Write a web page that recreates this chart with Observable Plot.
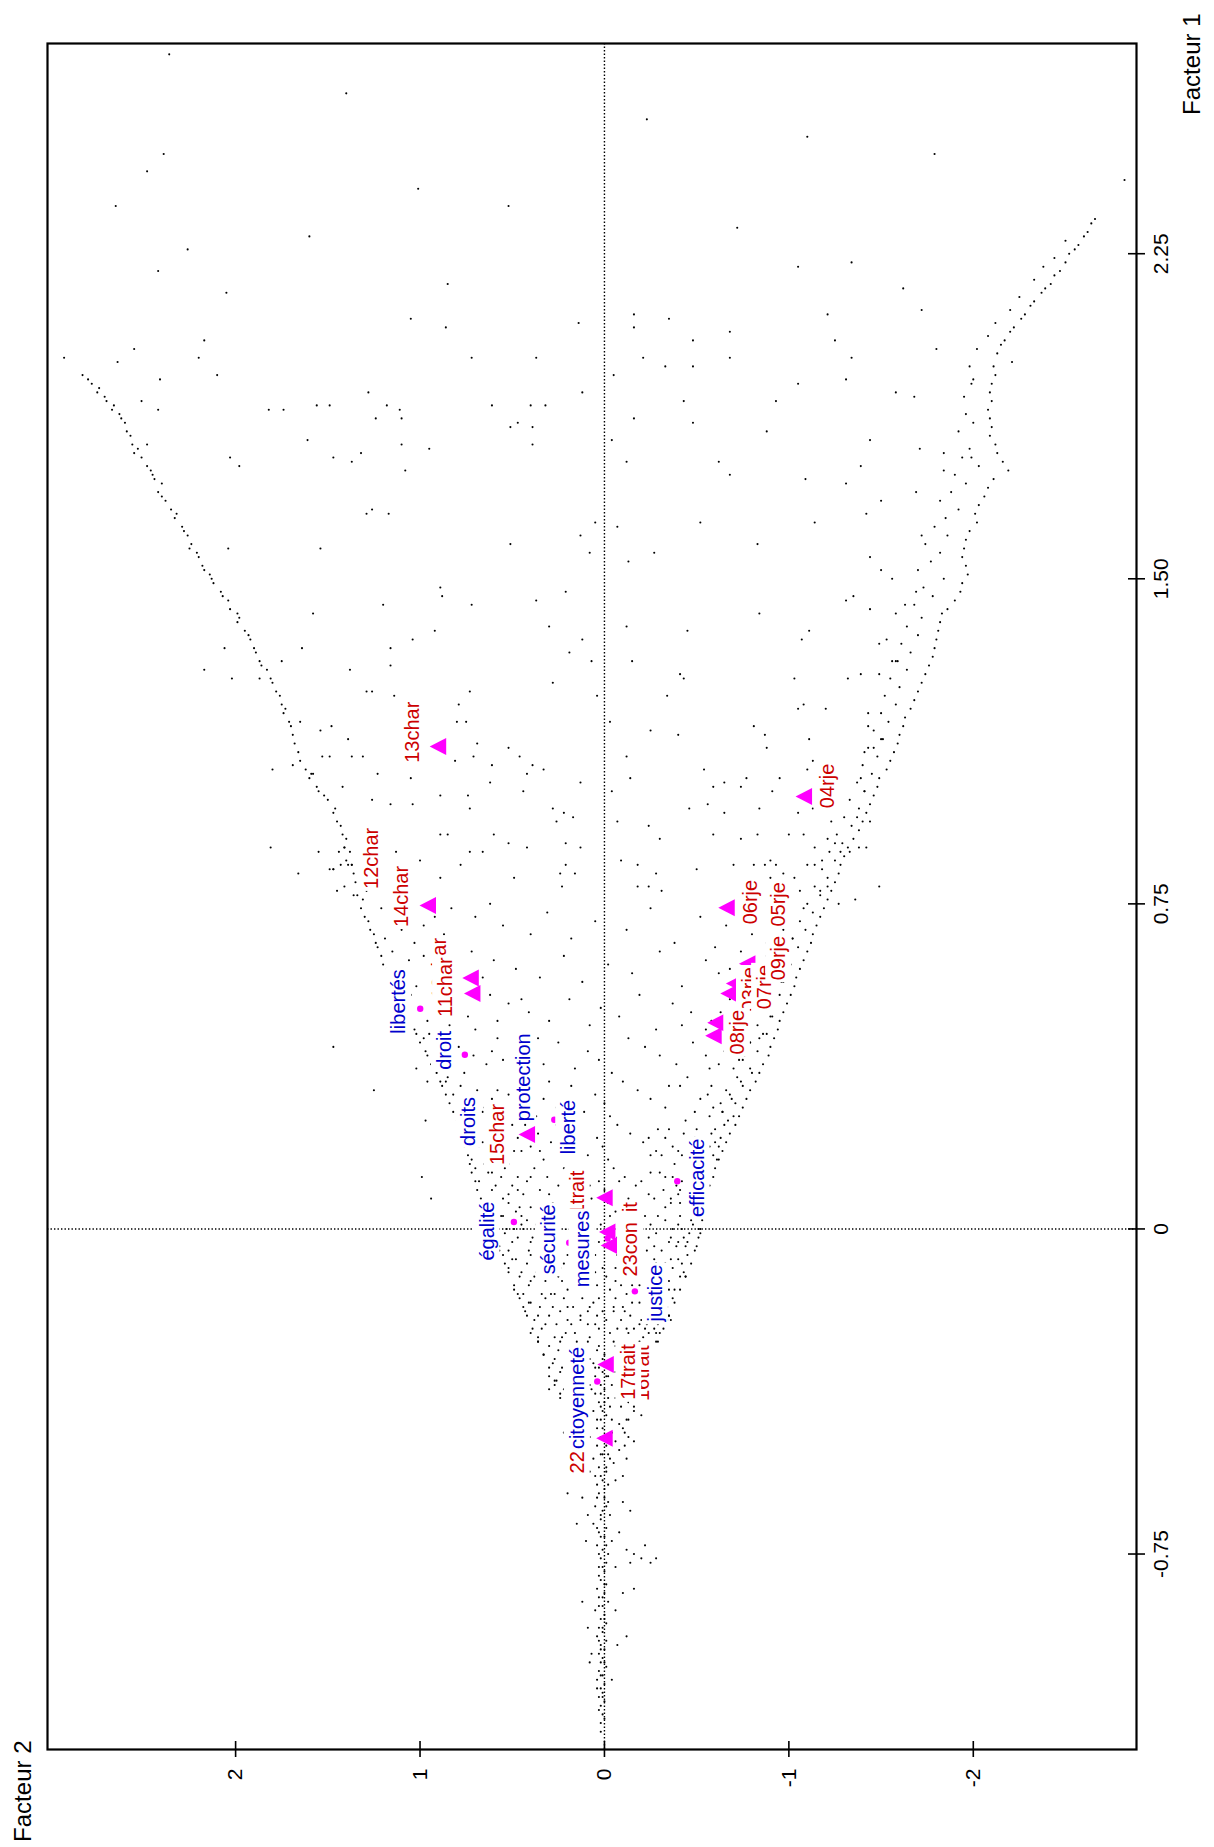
<!DOCTYPE html>
<html>
<head>
<meta charset="utf-8">
<script src="https://cdn.jsdelivr.net/npm/d3@7"></script>
<script src="https://cdn.jsdelivr.net/npm/@observablehq/plot@0.6"></script>
<style>
  html, body { margin: 0; padding: 0; background: #fff; }
  svg { display: block; }
</style>
</head>
<body>
<script>
// ---------- axes ----------
const xTicks = [2, 1, 0, -1, -2];                 // Facteur 2
const xTickLabels = ["2", "1", "0", "-1", "-2"];
const yTicks = [2.25, 1.5, 0.75, 0, -0.75];       // Facteur 1
const yTickLabels = ["2.25", "1.50", "0.75", "0", "-0.75"];
const f2Domain = [3.02, -2.885];
const f1Domain = [-1.201, 2.735];

// ---------- modalities (triangles, red labels) ----------
const modNames = ["12char","14char","13char","10char","11char","15char","04rje","03rje","07rje","09rje","05rje","06rje","01rje","08rje","21trait","20trait","23con\u2002it","16trait","17trait","22trait"];
const modF1 = [0.804,0.746,1.113,0.579,0.543,0.218,0.998,0.566,0.543,0.612,0.724,0.741,0.476,0.446,0.072,-0.007,-0.038,-0.344,-0.313,-0.483];
const modF2 = [1.117,0.958,0.903,0.726,0.717,0.421,-1.081,-0.703,-0.673,-0.774,-0.805,-0.662,-0.602,-0.591,0.0,-0.015,-0.024,-0.109,-0.006,0.0];
const modLabelF1 = [0.855,0.767,1.146,0.601,0.558,0.218,1.022,0.553,0.558,0.625,0.749,0.754,0.454,0.454,0.070,-0.046,-0.024,-0.333,-0.330,-0.500];
const modLabelF2 = [1.265,1.102,1.042,0.894,0.861,0.581,-1.208,-0.787,-0.869,-0.946,-0.946,-0.792,-0.720,-0.720,0.147,0.120,-0.142,-0.207,-0.132,0.147];

// ---------- words (circles, blue labels) ----------
const wordNames = ["libertés","droit","droits","protection","liberté","égalité","sécurité","mesures","efficacité","justice","citoyenneté"];
const wordF1 = [0.508,0.402,0.216,0.218,0.252,0.016,-0.032,-0.022,0.110,-0.144,-0.352];
const wordF2 = [0.999,0.757,0.591,0.421,0.272,0.491,0.191,-0.017,-0.395,-0.165,0.039];
const wordLabelF1 = [0.525,0.412,0.248,0.350,0.235,-0.005,-0.024,-0.046,0.118,-0.148,-0.390];
const wordLabelF2 = [1.115,0.867,0.735,0.437,0.193,0.636,0.302,0.120,-0.503,-0.277,0.147];

// ---------- point cloud [Facteur 1, Facteur 2] ----------
const leftArm = [[1.97,2.83],[1.96,2.80],[1.95,2.78],[1.94,2.74],[1.93,2.75],[1.92,2.71],[1.91,2.70],[1.90,2.66],[1.89,2.67],[1.88,2.63],[1.87,2.62],[1.86,2.60],[1.84,2.59],[1.83,2.57],[1.81,2.56],[1.80,2.53],[1.79,2.55],[1.78,2.51],[1.76,2.48],[1.75,2.46],[1.74,2.45],[1.73,2.44],[1.72,2.40],[1.70,2.42],[1.69,2.40],[1.68,2.38],[1.66,2.35],[1.65,2.32],[1.64,2.33],[1.62,2.29],[1.61,2.28],[1.60,2.26],[1.58,2.24],[1.57,2.25],[1.56,2.21],[1.55,2.20],[1.53,2.18],[1.52,2.17],[1.51,2.14],[1.50,2.13],[1.49,2.12],[1.47,2.08],[1.46,2.07],[1.45,2.04],[1.43,2.03],[1.42,1.99],[1.41,1.98],[1.40,1.99],[1.38,1.95],[1.37,1.93],[1.36,1.92],[1.34,1.90],[1.33,1.89],[1.31,1.87],[1.30,1.86],[1.29,1.83],[1.27,1.81],[1.26,1.80],[1.24,1.78],[1.23,1.76],[1.21,1.75],[1.20,1.73],[1.19,1.74],[1.17,1.71],[1.16,1.70],[1.14,1.69],[1.12,1.68],[1.10,1.66],[1.08,1.65],[1.07,1.69],[1.06,1.62],[1.05,1.59],[1.04,1.60],[1.02,1.56],[1.01,1.55],[1.00,1.52],[0.99,1.50],[0.97,1.46],[0.96,1.47],[0.94,1.45],[0.93,1.43],[0.91,1.42],[0.90,1.40],[0.88,1.41],[0.87,1.38],[0.85,1.40],[0.84,1.37],[0.83,1.47],[0.82,1.36],[0.80,1.35],[0.79,1.33],[0.77,1.34],[0.76,1.31],[0.74,1.32],[0.72,1.30],[0.71,1.28],[0.69,1.27],[0.68,1.25],[0.66,1.24],[0.65,1.23],[0.63,1.21],[0.61,1.20],[0.60,1.18],[0.58,1.17],[0.56,1.14],[0.55,1.13],[0.53,1.12],[0.51,1.09],[0.50,1.08],[0.48,1.06],[0.46,1.03],[0.45,1.02],[0.43,1.00],[0.41,0.97],[0.40,0.96],[0.38,0.94],[0.36,0.91],[0.34,0.89],[0.33,0.88],[0.31,0.86],[0.29,0.84],[0.27,0.82],[0.25,0.80],[0.23,0.78],[0.21,0.76],[0.19,0.76],[0.17,0.74],[0.15,0.73],[0.13,0.72],[0.11,0.70],[0.09,0.69],[0.07,0.67],[0.05,0.66],[0.03,0.64],[0.01,0.62],[-0.01,0.60],[-0.03,0.59],[-0.05,0.57],[-0.08,0.54],[-0.10,0.52],[-0.13,0.49],[-0.15,0.47],[-0.18,0.44],[-0.20,0.42],[-0.23,0.39],[-0.26,0.36],[-0.29,0.33],[-0.32,0.30],[-0.35,0.27],[-0.38,0.24],[-0.41,0.21],[-0.44,0.18],[-0.47,0.15],[-0.50,0.12]];

const rightArm = [[2.33,-2.66],[2.32,-2.64],[2.30,-2.62],[2.29,-2.60],[2.27,-2.57],[2.26,-2.55],[2.25,-2.52],[2.23,-2.50],[2.21,-2.47],[2.20,-2.44],[2.18,-2.42],[2.17,-2.39],[2.16,-2.37],[2.14,-2.33],[2.13,-2.31],[2.11,-2.28],[2.10,-2.26],[2.08,-2.22],[2.07,-2.20],[2.05,-2.17],[2.04,-2.15],[2.02,-2.13],[2.00,-2.21],[1.99,-2.11],[1.97,-2.12],[1.95,-2.10],[1.93,-2.09],[1.91,-2.10],[1.89,-2.08],[1.87,-2.09],[1.85,-2.10],[1.83,-2.09],[1.81,-2.12],[1.79,-2.13],[1.77,-2.16],[1.75,-2.19],[1.73,-2.11],[1.71,-2.08],[1.69,-2.06],[1.67,-2.03],[1.65,-2.01],[1.63,-2.02],[1.61,-1.98],[1.59,-1.96],[1.57,-1.95],[1.55,-1.94],[1.53,-1.96],[1.51,-1.97],[1.49,-1.94],[1.47,-1.93],[1.45,-1.90],[1.43,-1.86],[1.42,-1.83],[1.40,-1.82],[1.38,-1.81],[1.36,-1.80],[1.34,-1.79],[1.32,-1.78],[1.30,-1.76],[1.28,-1.74],[1.26,-1.72],[1.24,-1.70],[1.22,-1.68],[1.20,-1.66],[1.18,-1.63],[1.16,-1.62],[1.14,-1.60],[1.12,-1.59],[1.10,-1.57],[1.08,-1.55],[1.06,-1.53],[1.04,-1.49],[1.02,-1.48],[1.00,-1.46],[0.98,-1.44],[0.96,-1.42],[0.94,-1.40],[0.92,-1.38],[0.90,-1.35],[0.88,-1.32],[0.86,-1.30],[0.84,-1.28],[0.82,-1.27],[0.80,-1.25],[0.78,-1.23],[0.76,-1.21],[0.74,-1.19],[0.72,-1.17],[0.70,-1.15],[0.68,-1.13],[0.66,-1.12],[0.64,-1.10],[0.62,-1.08],[0.60,-1.06],[0.58,-1.04],[0.56,-1.03],[0.54,-1.01],[0.52,-0.99],[0.50,-0.97],[0.48,-0.95],[0.46,-0.94],[0.44,-0.92],[0.42,-0.90],[0.40,-0.89],[0.38,-0.86],[0.36,-0.84],[0.34,-0.82],[0.32,-0.79],[0.30,-0.77],[0.28,-0.75],[0.26,-0.73],[0.24,-0.71],[0.22,-0.68],[0.20,-0.66],[0.18,-0.64],[0.16,-0.62],[0.14,-0.60],[0.12,-0.59],[0.10,-0.57],[0.08,-0.56],[0.06,-0.55],[0.04,-0.54],[0.02,-0.53],[0.00,-0.52],[-0.02,-0.51],[-0.05,-0.49],[-0.08,-0.47],[-0.11,-0.44],[-0.14,-0.41],[-0.17,-0.38],[-0.20,-0.35],[-0.23,-0.32],[-0.26,-0.29],[-0.29,-0.26],[-0.32,-0.24],[-0.35,-0.21],[-0.38,-0.18],[-0.41,-0.16],[-0.44,-0.13],[-0.47,-0.11]];

const rightBand = [[2.28,-2.50],[2.24,-2.44],[2.22,-2.38],[2.19,-2.33],[2.15,-2.25],[2.12,-2.20],[2.09,-2.12],[2.06,-2.08],[2.03,-2.02],[1.99,-1.98],[1.96,-2.00],[1.92,-1.95],[1.88,-1.96],[1.86,-2.00],[1.84,-1.92],[1.80,-1.98],[1.78,-1.94],[1.76,-2.03],[1.74,-1.90],[1.72,-1.96],[1.70,-1.88],[1.68,-1.82],[1.66,-1.92],[1.64,-1.85],[1.62,-1.79],[1.60,-1.86],[1.58,-1.74],[1.56,-1.82],[1.54,-1.77],[1.52,-1.70],[1.50,-1.84],[1.48,-1.73],[1.46,-1.78],[1.44,-1.68],[1.41,-1.72],[1.39,-1.64],[1.37,-1.70],[1.35,-1.61],[1.33,-1.66],[1.31,-1.58],[1.29,-1.64],[1.27,-1.55],[1.25,-1.60],[1.23,-1.52],[1.21,-1.58],[1.19,-1.50],[1.17,-1.54],[1.15,-1.46],[1.13,-1.51],[1.11,-1.43],[1.09,-1.48],[1.07,-1.40],[1.05,-1.45],[1.03,-1.37],[1.01,-1.41],[0.99,-1.33],[0.97,-1.38],[0.95,-1.30],[0.93,-1.34],[0.91,-1.26],[0.89,-1.29],[0.87,-1.22],[0.85,-1.25],[0.83,-1.18],[0.81,-1.21],[0.79,-1.14],[0.77,-1.17],[0.75,-1.10],[0.73,-1.13],[0.71,-1.06],[0.69,-1.09],[0.67,-1.02],[0.65,-1.05],[0.63,-0.98],[0.61,-1.01],[0.59,-0.94],[0.57,-0.97],[0.55,-0.90],[0.53,-0.93],[0.51,-0.86],[0.49,-0.90],[0.47,-0.83],[0.45,-0.86],[0.43,-0.79],[0.41,-0.83],[0.39,-0.75],[0.37,-0.79],[0.35,-0.72],[0.33,-0.75],[0.31,-0.68],[0.29,-0.71],[0.27,-0.64],[0.25,-0.67],[0.23,-0.60],[0.21,-0.63],[0.19,-0.57],[0.17,-0.59],[0.15,-0.53],[0.13,-0.55],[0.11,-0.50],[0.09,-0.52],[0.07,-0.47],[0.05,-0.50],[0.03,-0.45],[0.01,-0.48]];

const topScatter = [[2.71,2.36],[2.48,2.39],[2.44,2.48],[2.40,1.01],[2.56,-0.23],[2.52,-1.10],[2.36,2.65],[2.26,2.26],[2.21,2.42],[2.36,0.52],[2.18,0.85],[2.62,1.40],[2.29,1.60],[2.16,2.05]];

const upperLeft = [[2.01,2.93],[2.03,2.55],[2.00,2.64],[2.05,2.17],[2.01,2.20],[1.97,2.10],[1.96,2.41],[1.91,2.51],[1.89,2.42],[1.81,2.48],[1.78,2.03],[1.76,1.98],[1.89,1.82],[1.89,1.74],[1.82,1.61],[1.90,1.56],[1.90,1.49],[1.93,1.28],[1.90,1.18],[1.89,1.11],[1.87,1.24],[1.87,1.10],[1.81,1.10],[1.80,0.95],[1.79,1.32],[1.77,1.37],[1.78,1.47],[1.75,1.08],[2.10,1.05],[2.08,0.86],[2.01,0.72],[2.01,0.37],[2.09,0.14],[1.93,0.12],[1.90,0.61],[1.85,0.51],[1.86,0.47],[1.90,0.40],[1.90,0.32],[1.85,0.39],[1.81,0.39],[1.66,1.26],[1.65,1.29],[1.65,1.17],[1.57,1.54],[1.57,2.04],[1.63,0.05],[1.60,0.13],[1.58,0.51],[1.56,0.08],[1.48,0.89],[1.46,0.88],[1.44,1.20],[1.42,1.58],[1.44,0.72],[1.45,0.37],[1.47,0.21],[1.39,0.30],[1.38,0.92],[1.36,1.04],[1.34,1.16],[1.34,1.64],[1.34,2.06],[1.29,2.17],[1.27,2.02],[1.27,1.87],[1.31,1.75],[1.29,1.38],[1.30,1.16],[1.36,0.12],[1.33,0.19],[1.31,0.07],[1.26,0.28],[1.23,0.04],[1.24,1.29],[1.24,1.26],[1.23,1.14],[1.24,0.73],[1.21,0.79],[1.17,0.75],[1.17,0.80],[1.16,1.48],[1.15,1.54],[1.17,1.65],[1.13,1.39],[1.09,1.37],[1.09,1.31],[1.09,1.53],[1.09,1.49],[1.06,1.80],[1.05,1.58],[1.02,1.42],[1.05,1.23],[1.04,1.05],[1.12,0.69],[1.09,0.71],[1.08,0.81],[1.07,0.61],[1.11,0.52],[1.09,0.46],[1.07,0.39],[1.06,0.33],[1.05,0.42],[1.03,0.62],[1.00,0.89],[0.98,1.04],[0.98,1.16],[0.99,1.26],[1.00,0.74],[1.01,0.44],[0.97,0.73],[0.97,0.28],[0.96,0.22],[0.95,0.17],[0.94,0.26],[1.03,0.13],[0.91,0.89],[0.91,0.85],[0.91,0.60],[0.89,0.52],[0.88,0.42],[0.89,0.21],[0.88,0.13],[0.87,0.73],[0.87,0.66],[0.84,0.78],[0.81,0.89],[0.81,0.49],[0.82,0.24],[0.82,0.16],[0.84,0.21],[0.79,0.23],[0.87,1.13],[0.85,1.00],[0.84,1.39],[0.87,1.44],[0.88,1.41],[0.83,1.47],[0.84,1.43],[0.84,1.37],[0.87,1.55],[0.82,1.66],[0.88,1.81],[0.83,1.49],[0.79,1.41],[0.78,1.45],[0.77,1.36],[0.78,1.29]];

const upperRight = [[2.48,-1.79],[2.42,-2.82],[2.31,-0.72],[2.22,-1.05],[2.23,-1.34],[2.17,-1.62],[2.12,-1.72],[2.11,-0.16],[2.08,-0.16],[2.10,-0.35],[2.07,-0.68],[2.11,-1.21],[2.05,-0.48],[2.05,-1.25],[2.03,-1.80],[2.01,-0.21],[1.99,-0.33],[1.99,-0.48],[2.01,-0.68],[2.01,-1.34],[1.97,-0.05],[1.96,-1.31],[1.95,-1.05],[1.93,-1.58],[1.92,-1.68],[1.95,-1.99],[1.91,-0.43],[1.91,-0.93],[1.87,-0.16],[1.86,-0.48],[1.84,-0.88],[1.82,-1.44],[1.82,-0.04],[1.77,-0.12],[1.77,-0.62],[1.76,-1.39],[1.80,-1.71],[1.74,-0.68],[1.73,-1.09],[1.72,-1.31],[1.70,-1.69],[1.79,-1.84],[1.75,-1.84],[1.78,-1.99],[1.68,-1.50],[1.65,-1.42],[1.63,-0.52],[1.63,-1.14],[1.62,-0.07],[1.60,-1.72],[1.58,-0.83],[1.56,-0.27],[1.55,-1.44],[1.52,-1.50],[1.50,-1.56],[1.47,-1.69],[1.54,-0.13],[1.45,-1.31],[1.46,-1.35],[1.43,-1.44],[1.44,-1.63],[1.42,-1.58],[1.42,-0.84],[1.39,-0.12],[1.38,-0.45],[1.38,-1.11],[1.36,-1.07],[1.36,-1.53],[1.35,-1.49],[1.31,-0.15],[1.28,-0.41],[1.27,-0.43],[1.27,-1.03],[1.28,-1.39],[1.28,-1.49],[1.31,-1.56],[1.31,-1.59],[1.27,-1.32],[1.23,-0.34],[1.20,-1.20],[1.21,-1.08],[1.20,-1.05],[1.17,-0.03],[1.15,-0.25],[1.14,-0.40],[1.16,-0.81],[1.14,-0.87],[1.11,-0.88],[1.13,-1.11],[1.19,-1.43],[1.16,-1.43],[1.13,-1.50],[1.11,-1.46],[1.10,-1.41],[1.09,-0.12],[1.06,-0.54],[1.08,-1.13],[1.04,-0.95],[1.06,-1.10],[1.04,-0.14],[1.01,-0.04],[1.02,-0.59],[1.03,-0.65],[1.02,-0.74],[1.04,-0.77],[1.01,-0.91],[0.97,-0.46],[0.98,-0.56],[0.96,-0.65],[0.97,-0.84],[0.96,-1.05],[0.97,-1.13],[0.94,-1.23],[0.95,-1.37],[1.04,-1.39],[1.01,-1.41],[0.94,-1.44],[0.94,-0.07],[0.93,-0.24],[0.90,-0.30],[0.91,-0.59],[0.90,-0.74],[0.91,-0.83],[0.91,-1.00],[0.91,-1.08],[0.88,-1.14],[0.90,-1.21],[0.89,-1.25],[0.87,-1.28],[0.87,-1.33],[0.88,-1.38],[0.88,-1.42],[0.84,-0.18],[0.82,-0.28],[0.85,-0.09],[0.83,-0.50],[0.84,-0.70],[0.84,-0.81],[0.84,-0.87],[0.85,-0.90],[0.84,-0.93],[0.82,-0.97],[0.81,-1.03],[0.84,-1.10],[0.84,-1.14],[0.85,-1.18],[0.79,-0.18],[0.79,-0.24],[0.78,-0.31],[0.80,-0.73],[0.80,-0.79],[0.81,-0.90],[0.78,-1.06],[0.78,-1.17],[0.79,-1.21],[0.79,-1.49],[0.76,-1.36],[0.75,-1.27]];

const midBand = [[0.74,1.21],[0.73,1.05],[0.72,0.92],[0.74,0.83],[0.71,1.16],[0.70,0.98],[0.69,1.10],[0.68,0.87],[0.67,1.19],[0.66,1.03],[0.72,0.70],[0.70,0.55],[0.68,0.40],[0.73,0.31],[0.67,0.18],[0.71,0.05],[0.69,-0.12],[0.74,-0.25],[0.66,-0.38],[0.72,-0.52],[0.70,-0.66],[0.68,-0.80],[0.73,-0.93],[0.67,-1.02],[0.71,-0.75],[0.66,-0.88],[0.74,-1.08],[0.69,-0.97],[0.65,-0.60],[0.75,0.62],
[0.64,1.15],[0.63,0.98],[0.62,1.06],[0.61,0.90],[0.60,0.81],[0.59,1.10],[0.58,0.95],[0.57,0.86],[0.56,1.02],[0.64,0.72],[0.62,0.60],[0.60,0.48],[0.58,0.35],[0.63,0.22],[0.57,0.12],[0.61,-0.02],[0.59,-0.15],[0.64,-0.30],[0.56,-0.42],[0.62,-0.55],[0.60,-0.68],[0.58,-0.79],[0.63,-0.88],[0.57,-0.96],[0.61,-1.00],[0.59,-0.62],[0.56,-0.85],[0.64,-0.74],[0.62,0.84],[0.58,0.66],
[0.54,1.05],[0.53,0.92],[0.52,0.81],[0.51,1.00],[0.50,0.88],[0.49,0.74],[0.48,0.96],[0.47,0.84],[0.46,0.70],[0.54,0.62],[0.52,0.52],[0.50,0.41],[0.48,0.30],[0.53,0.19],[0.47,0.08],[0.51,0.02],[0.49,-0.08],[0.54,-0.19],[0.46,-0.28],[0.52,-0.37],[0.50,-0.47],[0.48,-0.58],[0.53,-0.68],[0.47,-0.77],[0.51,-0.84],[0.49,-0.91],[0.45,-0.88],[0.54,-0.95],[0.52,-0.72],[0.46,-0.55],[0.50,-0.63],[0.48,0.58],[0.45,0.95],[0.53,0.45],[0.47,-0.42],
[0.44,0.98],[0.43,0.88],[0.42,0.79],[0.41,0.93],[0.40,0.71],[0.39,0.85],[0.38,0.64],[0.37,0.90],[0.36,0.76],[0.44,0.58],[0.42,0.50],[0.40,0.42],[0.38,0.33],[0.43,0.25],[0.37,0.16],[0.41,0.09],[0.39,0.03],[0.36,-0.04],[0.44,-0.13],[0.42,-0.22],[0.40,-0.30],[0.38,-0.39],[0.43,-0.48],[0.37,-0.57],[0.41,-0.65],[0.39,-0.73],[0.36,-0.80],[0.44,-0.84],[0.42,-0.70],[0.40,-0.55],[0.38,-0.62],[0.35,-0.45],[0.43,-0.79],[0.37,-0.70],[0.41,0.61],[0.39,0.55],[0.36,0.47],[0.44,0.36],[0.35,0.85],[0.40,-0.76],[0.42,1.47],[0.37,1.02],[0.34,0.96],
[0.34,0.86],[0.33,0.78],[0.32,0.69],[0.31,0.82],[0.30,0.61],[0.29,0.74],[0.28,0.55],[0.27,0.66],[0.26,0.79],[0.34,0.48],[0.32,0.40],[0.30,0.33],[0.28,0.26],[0.33,0.18],[0.27,0.11],[0.31,0.05],[0.29,0.00],[0.26,-0.03],[0.34,-0.10],[0.32,-0.18],[0.30,-0.25],[0.28,-0.33],[0.33,-0.41],[0.27,-0.49],[0.31,-0.56],[0.29,-0.63],[0.26,-0.70],[0.34,-0.74],[0.32,-0.66],[0.30,-0.52],[0.28,-0.59],[0.25,-0.44],[0.33,-0.58],[0.27,-0.64],[0.31,0.52],[0.29,0.45],[0.26,0.37],[0.34,0.30],[0.25,0.72],[0.30,-0.69],[0.32,0.58],[0.28,0.65],[0.26,-0.57],[0.33,-0.35],[0.32,1.25],[0.25,0.97]];

const coreBand = [[0.24,0.78],[0.23,0.70],[0.22,0.62],[0.21,0.75],[0.20,0.55],[0.19,0.68],[0.18,0.49],[0.17,0.60],[0.16,0.72],[0.24,0.43],[0.22,0.36],[0.20,0.29],[0.18,0.22],[0.23,0.15],[0.17,0.09],[0.21,0.04],[0.19,0.01],[0.16,-0.02],[0.24,-0.07],[0.22,-0.14],[0.20,-0.21],[0.18,-0.28],[0.23,-0.35],[0.17,-0.42],[0.21,-0.49],[0.19,-0.56],[0.16,-0.61],[0.24,-0.65],[0.22,-0.58],[0.20,-0.45],[0.18,-0.52],[0.15,-0.38],[0.23,-0.50],[0.17,-0.55],[0.21,0.47],[0.19,0.40],[0.16,0.33],[0.24,0.26],[0.15,0.65],[0.20,-0.60],[0.22,0.53],[0.18,0.58],[0.16,-0.48],[0.23,-0.29],[0.19,-0.37],[0.21,-0.24],[0.17,-0.31],[0.24,0.60],[0.15,0.52],[0.20,0.66],[0.18,0.35],[0.22,-0.43],[0.16,-0.54],[0.19,-0.62],[0.23,0.68],
[0.14,0.70],[0.13,0.63],[0.12,0.56],[0.11,0.68],[0.10,0.50],[0.09,0.61],[0.08,0.44],[0.07,0.55],[0.06,0.65],[0.14,0.38],[0.12,0.31],[0.10,0.25],[0.08,0.19],[0.13,0.12],[0.07,0.07],[0.11,0.03],[0.09,0.00],[0.06,-0.02],[0.14,-0.05],[0.12,-0.11],[0.10,-0.17],[0.08,-0.24],[0.13,-0.30],[0.07,-0.36],[0.11,-0.42],[0.09,-0.48],[0.06,-0.52],[0.14,-0.56],[0.12,-0.50],[0.10,-0.39],[0.08,-0.45],[0.05,-0.33],[0.13,-0.44],[0.07,-0.49],[0.11,0.42],[0.09,0.35],[0.06,0.28],[0.14,0.22],[0.05,0.58],[0.10,-0.53],[0.12,0.47],[0.08,0.52],[0.06,-0.41],[0.13,-0.25],[0.09,-0.32],[0.11,-0.20],[0.07,-0.27],[0.14,0.54],[0.05,0.46],[0.10,0.59],[0.08,0.30],[0.12,-0.37],[0.06,-0.47],[0.09,-0.55],[0.13,0.61],[0.11,-0.08],[0.07,-0.13],[0.05,0.40],[0.12,0.18],[0.08,-0.40],[0.10,0.08],[0.12,0.99],[0.07,0.94],
[0.04,0.62],[0.03,0.55],[0.02,0.49],[0.01,0.60],[0.00,0.44],[-0.01,0.54],[-0.02,0.39],[-0.03,0.50],[-0.04,0.57],[0.04,0.33],[0.02,0.27],[0.00,0.21],[-0.02,0.16],[0.03,0.10],[-0.03,0.06],[0.01,0.02],[-0.01,0.00],[-0.04,-0.02],[0.04,-0.06],[0.02,-0.12],[0.00,-0.18],[-0.02,-0.24],[0.03,-0.29],[-0.03,-0.35],[0.01,-0.40],[-0.01,-0.46],[-0.04,-0.50],[0.04,-0.53],[0.02,-0.47],[0.00,-0.37],[-0.02,-0.43],[-0.05,-0.31],[0.03,-0.41],[-0.03,-0.45],[0.01,0.37],[-0.01,0.31],[-0.04,0.25],[0.04,0.19],[-0.05,0.52],[0.00,-0.51],[0.02,0.42],[-0.02,0.47],[-0.04,-0.39],[0.03,-0.22],[-0.01,-0.28],[0.01,-0.16],[-0.03,-0.20],[0.04,0.48],[-0.05,0.41],[0.00,0.53],[-0.02,0.29],[0.02,-0.33],[-0.04,-0.44],[-0.01,-0.52],[0.03,0.56],[0.01,-0.08],[-0.03,-0.11],[-0.05,0.35],[0.02,0.14],[-0.02,-0.36],[0.00,0.07],[0.03,-0.48],[-0.04,-0.27],[0.01,0.45],[-0.02,0.58],[0.04,0.26],
[-0.06,0.55],[-0.07,0.48],[-0.08,0.42],[-0.09,0.52],[-0.10,0.37],[-0.11,0.46],[-0.12,0.32],[-0.13,0.41],[-0.14,0.49],[-0.06,0.28],[-0.08,0.22],[-0.10,0.17],[-0.12,0.12],[-0.07,0.08],[-0.13,0.04],[-0.09,0.01],[-0.11,-0.01],[-0.14,-0.03],[-0.06,-0.07],[-0.08,-0.12],[-0.10,-0.17],[-0.12,-0.22],[-0.07,-0.27],[-0.13,-0.32],[-0.09,-0.37],[-0.11,-0.41],[-0.14,-0.38],[-0.06,-0.45],[-0.08,-0.42],[-0.10,-0.31],[-0.12,-0.35],[-0.15,-0.26],[-0.07,-0.36],[-0.13,-0.19],[-0.09,0.30],[-0.11,0.25],[-0.14,0.20],[-0.06,0.15],[-0.15,0.44],[-0.10,-0.43],[-0.08,0.35],[-0.12,0.40],[-0.14,-0.30],[-0.07,-0.18],[-0.11,-0.24],[-0.09,-0.13],[-0.13,-0.15],[-0.06,0.40],[-0.15,0.34],[-0.10,0.45],[-0.12,0.23],[-0.08,-0.28],[-0.14,-0.35],[-0.11,-0.44],[-0.07,0.50],[-0.09,-0.06],[-0.13,-0.09],[-0.15,0.29],[-0.08,0.10],[-0.12,-0.28],[-0.10,0.05],[-0.07,-0.40],[-0.14,-0.22],[-0.11,0.38],[-0.06,0.20],
[-0.16,0.46],[-0.17,0.40],[-0.18,0.35],[-0.19,0.43],[-0.20,0.30],[-0.21,0.38],[-0.22,0.26],[-0.23,0.34],[-0.24,0.40],[-0.16,0.22],[-0.18,0.17],[-0.20,0.13],[-0.22,0.09],[-0.17,0.06],[-0.23,0.03],[-0.19,0.01],[-0.21,-0.01],[-0.24,-0.03],[-0.16,-0.06],[-0.18,-0.10],[-0.20,-0.14],[-0.22,-0.19],[-0.17,-0.23],[-0.23,-0.27],[-0.19,-0.31],[-0.21,-0.34],[-0.24,-0.30],[-0.16,-0.37],[-0.18,-0.34],[-0.20,-0.25],[-0.22,-0.29],[-0.25,-0.21],[-0.17,-0.30],[-0.23,-0.16],[-0.19,0.24],[-0.21,0.20],[-0.24,0.16],[-0.16,0.12],[-0.25,0.36],[-0.20,-0.35],[-0.18,0.28],[-0.22,0.32],[-0.24,-0.24],[-0.17,-0.15],[-0.21,-0.20],[-0.19,-0.11],[-0.23,-0.12],[-0.16,0.32],[-0.25,0.27],[-0.20,0.36],[-0.22,0.18],[-0.18,-0.22],[-0.24,-0.28],[-0.21,-0.36],[-0.17,0.41],[-0.19,-0.05],[-0.23,-0.07],[-0.25,0.23],[-0.18,0.08],[-0.22,-0.23],[-0.20,0.04],
[-0.26,0.36],[-0.27,0.30],[-0.28,0.25],[-0.29,0.33],[-0.30,0.21],[-0.31,0.28],[-0.32,0.18],[-0.33,0.24],[-0.34,0.30],[-0.26,0.15],[-0.28,0.11],[-0.30,0.08],[-0.32,0.05],[-0.27,0.03],[-0.33,0.01],[-0.29,0.00],[-0.31,-0.01],[-0.34,-0.02],[-0.26,-0.05],[-0.28,-0.08],[-0.30,-0.11],[-0.32,-0.15],[-0.27,-0.18],[-0.33,-0.21],[-0.29,-0.24],[-0.31,-0.26],[-0.34,-0.23],[-0.26,-0.28],[-0.28,-0.26],[-0.30,-0.19],[-0.32,-0.22],[-0.35,-0.16],[-0.27,-0.23],[-0.33,-0.12],[-0.29,0.17],[-0.31,0.14],[-0.34,0.11],[-0.26,0.09],[-0.35,0.26],[-0.30,-0.25],[-0.28,0.20],[-0.32,0.23],[-0.34,-0.18],[-0.27,-0.11],[-0.31,-0.15],[-0.29,-0.07],[-0.33,-0.09],[-0.26,0.24],[-0.35,0.19],[-0.30,0.27],
[-0.36,0.27],[-0.37,0.22],[-0.38,0.17],[-0.39,0.24],[-0.40,0.13],[-0.41,0.19],[-0.42,0.10],[-0.43,0.15],[-0.44,0.20],[-0.36,0.08],[-0.38,0.05],[-0.40,0.03],[-0.42,0.01],[-0.37,0.00],[-0.43,-0.01],[-0.39,-0.02],[-0.41,-0.03],[-0.44,-0.04],[-0.36,-0.07],[-0.38,-0.10],[-0.40,-0.13],[-0.42,-0.16],[-0.37,-0.19],[-0.43,-0.20],[-0.39,-0.17],[-0.41,-0.09],[-0.44,-0.12],[-0.36,-0.15],[-0.38,0.12],[-0.40,0.20],[-0.42,0.06],[-0.45,0.16],[-0.37,0.30],[-0.43,0.09],[-0.39,-0.06],[-0.41,0.02],[-0.44,0.04],[-0.36,0.02],[-0.45,-0.08]];

const coreExtra = [[0.02,0.35],[-0.01,0.27],[-0.03,0.18],[-0.06,0.33],[-0.09,0.24],[-0.12,0.18],[-0.15,0.27],[-0.18,0.20],[-0.21,0.13],[-0.24,0.21],[-0.27,0.16],[-0.30,0.12],[-0.33,0.17],[-0.36,0.12],[-0.39,0.09],[-0.42,0.13],
[0.01,-0.25],[-0.02,-0.19],[-0.05,-0.23],[-0.08,-0.33],[-0.11,-0.29],[-0.14,-0.25],[-0.17,-0.19],[-0.20,-0.28],[-0.23,-0.22],[-0.26,-0.19],[-0.29,-0.15],[-0.32,-0.11],[-0.35,-0.09],[-0.38,-0.13],
[0.04,0.09],[0.01,0.12],[-0.03,0.03],[-0.06,0.05],[-0.10,0.10],[-0.13,0.07],[-0.16,0.03],[-0.19,0.09],[-0.22,0.05],[-0.25,0.08],[-0.28,0.04],[-0.31,0.06],[-0.34,0.05],[-0.37,0.07],
[0.03,-0.03],[-0.02,-0.07],[-0.05,-0.12],[-0.09,-0.09],[-0.12,-0.06],[-0.15,-0.12],[-0.18,-0.05],[-0.21,-0.09],[-0.24,-0.13],[-0.27,-0.06],[-0.30,-0.04],[-0.33,-0.06],[-0.36,-0.04],
[0.18,-0.40],[0.15,-0.45],[0.12,-0.33],[0.09,-0.41],[0.06,-0.36],[0.03,-0.44],[0.00,-0.42],[-0.03,-0.40],[0.21,-0.33],[0.17,-0.25],
[0.18,0.45],[0.15,0.55],[0.12,0.40],[0.09,0.47],[0.06,0.52],[0.03,0.45],[0.00,0.49],[-0.03,0.40],[0.21,0.58],[0.24,0.50]];

const tail = [[-0.46,0.18],[-0.47,0.12],[-0.48,0.08],[-0.49,0.14],[-0.50,0.04],[-0.51,0.09],[-0.52,0.02],[-0.53,0.06],[-0.54,0.11],[-0.46,0.01],[-0.48,0.00],[-0.50,-0.01],[-0.52,-0.02],[-0.47,-0.04],[-0.53,-0.03],[-0.49,-0.06],[-0.51,-0.08],[-0.54,-0.05],[-0.46,-0.10],[-0.48,-0.13],[-0.50,-0.11],[-0.55,0.03],[-0.56,-0.01],[-0.57,0.05],[-0.58,0.01],[-0.59,-0.02],[-0.56,0.08],[-0.58,-0.06],[-0.55,0.15],[-0.57,-0.10],[-0.59,0.04],[-0.47,0.22],[-0.52,0.17],[-0.49,-0.16],[-0.53,-0.12],
[-0.61,0.03],[-0.62,0.00],[-0.63,-0.02],[-0.64,0.05],[-0.65,0.01],[-0.66,-0.03],[-0.67,0.02],[-0.68,0.06],[-0.69,-0.01],[-0.70,0.03],[-0.71,0.00],[-0.72,-0.04],[-0.73,0.04],[-0.74,0.01],[-0.75,-0.02],[-0.76,0.02],[-0.77,-0.01],[-0.78,0.03],[-0.79,0.00],[-0.62,0.12],[-0.66,0.09],[-0.70,-0.08],[-0.74,-0.12],[-0.75,-0.16],[-0.76,-0.20],[-0.77,-0.25],[-0.76,-0.28],[-0.73,-0.22],[-0.77,-0.14],[-0.63,-0.10],[-0.68,0.15],[-0.72,0.10],[-0.78,-0.06],[-0.65,-0.14],[-0.61,0.20],
[-0.81,0.02],[-0.82,-0.01],[-0.83,0.04],[-0.84,0.00],[-0.85,0.03],[-0.86,-0.02],[-0.87,0.01],[-0.88,0.05],[-0.89,0.00],[-0.90,0.02],[-0.91,-0.01],[-0.92,0.03],[-0.93,0.01],[-0.94,0.04],[-0.95,-0.01],[-0.96,0.02],[-0.97,0.00],[-0.98,0.03],[-0.99,0.01],[-1.00,0.02],[-1.01,-0.01],[-1.02,0.03],[-1.03,0.01],[-1.04,0.04],[-1.05,0.00],[-1.06,0.02],[-1.07,0.01],[-1.08,0.03],[-1.09,0.00],[-1.10,0.02],[-1.12,0.01],[-1.14,0.02],[-0.84,-0.10],[-0.88,-0.06],[-0.92,0.09],[-0.96,-0.07],[-1.00,0.08],[-1.04,-0.04],[-0.86,0.12],[-0.94,-0.12],[-0.83,-0.16],[-0.98,0.07],
[-0.30,0.01],[-0.32,0.03],[-0.34,-0.01],[-0.38,0.02],[-0.40,0.00],[-0.44,0.02],[-0.46,0.04],[-0.48,0.02],[-0.52,0.01],[-0.55,-0.01],[-0.57,0.02],[-0.60,0.00],[-0.62,0.04],[-0.64,-0.01],[-0.66,0.02],[-0.69,0.04],[-0.71,0.02],[-0.73,-0.01],[-0.75,0.03],[-0.78,0.01],[-0.80,0.03],[-0.82,0.00],[-0.85,0.01],[-0.87,0.03],[-0.90,0.00],[-0.92,0.01],[-0.95,0.03],[-0.97,0.02],[-1.00,0.00],[-1.03,0.02],[-1.06,0.04],[-1.08,0.01],[-1.11,0.03],[-1.13,0.00],[-1.16,0.02]];

// ---------- build tables ----------
const cloud = [...leftArm, ...rightArm, ...rightBand, ...topScatter, ...upperLeft, ...upperRight, ...midBand, ...coreBand, ...coreExtra, ...tail]
  .map(([f1, f2]) => ({f1, f2}));
const mods = modNames.map((label, i) => ({label, f1: modF1[i], f2: modF2[i], lf1: modLabelF1[i], lf2: modLabelF2[i]}));
const words = wordNames.map((label, i) => ({label, f1: wordF1[i], f2: wordF2[i], lf1: wordLabelF1[i], lf2: wordLabelF2[i]}));

const xEdge = f2Domain[1];  // right frame side
const yEdge = f1Domain[0];  // bottom frame side

// left-pointing triangle symbol
const triLeft = {
  draw(ctx, size) {
    const r = Math.sqrt(size / Math.PI);
    ctx.moveTo(-r * 0.97, 0);
    ctx.lineTo(r * 0.97, -r);
    ctx.lineTo(r * 0.97, r);
    ctx.closePath();
  }
};

const FONT = "'Liberation Sans', Arial, Helvetica, sans-serif";
const dotted = {stroke: "#000", strokeWidth: 1.4, strokeDasharray: "1.4,2.1"};

const plot = Plot.plot({
  width: 1214,
  height: 1847,
  marginLeft: 47,
  marginRight: 78,
  marginTop: 43,
  marginBottom: 98,
  x: {domain: f2Domain, axis: null},
  y: {domain: f1Domain, axis: null},
  style: {fontFamily: FONT, background: "#fff", overflow: "visible"},
  marks: [
    Plot.ruleX([0], dotted),
    Plot.ruleY([0], dotted),
    Plot.dot(cloud, {x: "f2", y: "f1", r: 1.05, fill: "#000"}),
    Plot.dot(words, {x: "f2", y: "f1", r: 3.2, fill: "#ff00ff"}),
    Plot.dot(mods, {x: "f2", y: "f1", r: 8.5, fill: "#ff00ff", symbol: triLeft}),
    Plot.text(mods, {x: "lf2", y: "lf1", text: "label", rotate: -90, fill: "#cc0000", fontSize: 20, textAnchor: "middle", lineAnchor: "middle"}),
    Plot.text(words, {x: "lf2", y: "lf1", text: "label", rotate: -90, fill: "#0000cc", fontSize: 20, textAnchor: "middle", lineAnchor: "middle"}),
    Plot.frame({stroke: "#000", strokeWidth: 2.2}),
    Plot.ruleX(xTicks, {x: d => d, y1: () => yEdge, y2: () => yEdge, insetTop: -8, insetBottom: -8, stroke: "#000", strokeWidth: 1.6}),
    Plot.ruleY(yTicks, {y: d => d, x1: () => xEdge, x2: () => xEdge, insetLeft: -8, insetRight: -9, stroke: "#000", strokeWidth: 1.6}),
    Plot.text(xTicks, {x: d => d, y: () => yEdge, text: (d, i) => xTickLabels[i], rotate: -90, textAnchor: "end", lineAnchor: "middle", dy: 19, fontSize: 21, fill: "#000"}),
    Plot.text(yTicks, {x: () => xEdge, y: d => d, text: (d, i) => yTickLabels[i], rotate: -90, textAnchor: "middle", lineAnchor: "middle", dx: 25, fontSize: 21, fill: "#000"}),
    Plot.text(["Facteur 1"], {frameAnchor: "top-right", text: d => d, rotate: -90, textAnchor: "end", lineAnchor: "middle", dx: 56, dy: -30, fontSize: 24, fill: "#000"}),
    Plot.text(["Facteur 2"], {frameAnchor: "bottom-left", text: d => d, rotate: -90, textAnchor: "end", lineAnchor: "middle", dx: -24, dy: -9, fontSize: 24, fill: "#000"})
  ]
});

document.body.appendChild(plot);

// white boxes behind point labels (later labels hide earlier ones)
const labelSet = new Set([...modNames, ...wordNames]);
const pad = 2;
plot.querySelectorAll("text").forEach(t => {
  if (!labelSet.has(t.textContent)) return;
  const bb = t.getBBox();
  const rect = document.createElementNS("http://www.w3.org/2000/svg", "rect");
  rect.setAttribute("x", bb.x - pad);
  rect.setAttribute("y", bb.y - pad);
  rect.setAttribute("width", bb.width + 2 * pad);
  rect.setAttribute("height", bb.height + 2 * pad);
  rect.setAttribute("fill", "#fff");
  rect.setAttribute("stroke", "none");
  const tr = t.getAttribute("transform");
  if (tr) rect.setAttribute("transform", tr);
  t.parentNode.insertBefore(rect, t);
});
</script>
</body>
</html>
